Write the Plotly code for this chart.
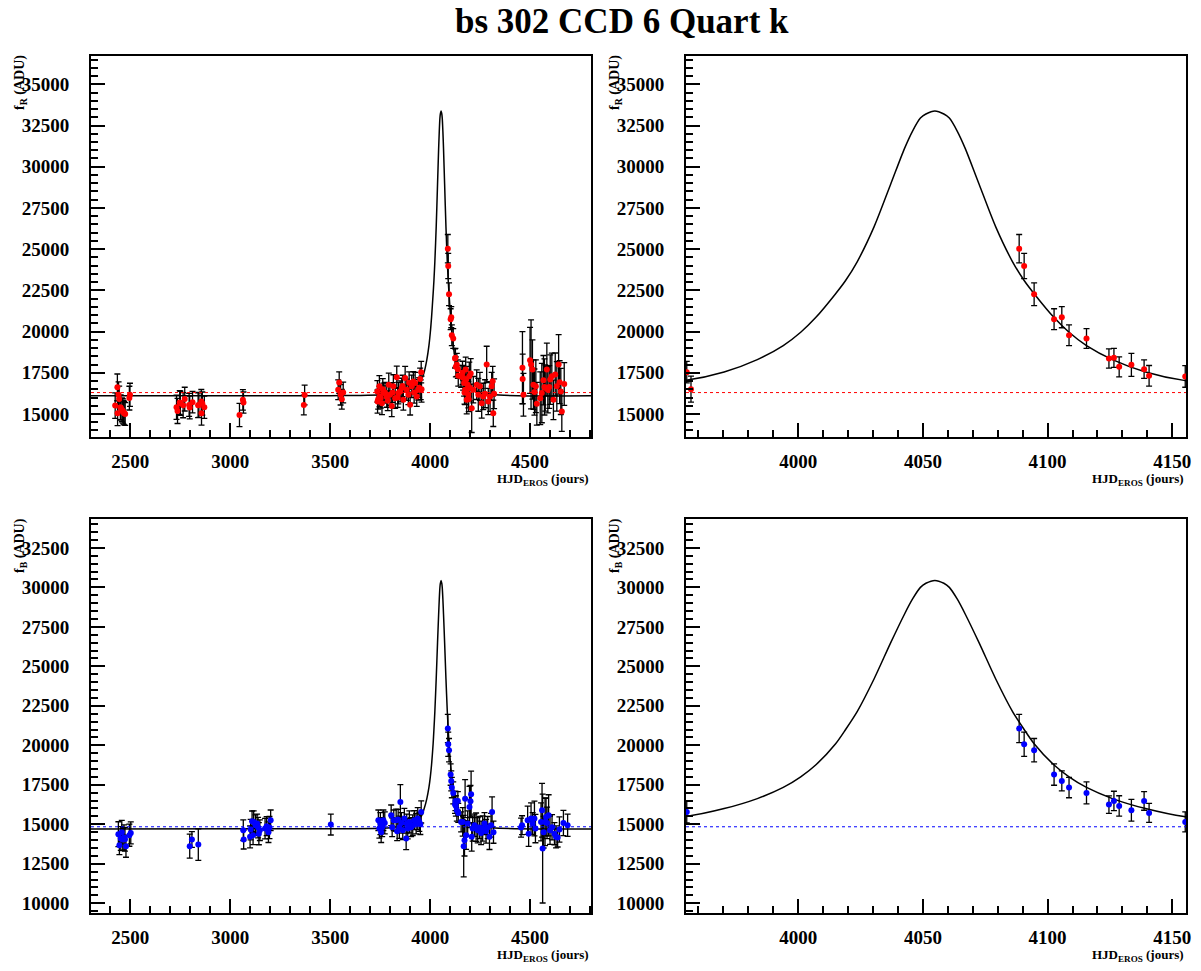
import plotly.graph_objects as go

# ---------------- data ----------------
# fit model (black curve), shared time grid
t_model = [2303, 3500, 3800, 3880, 3920,
           3954.8, 3970.3, 3983.6, 3994.0, 4001.0, 4007.0, 4015.0, 4019.0, 4023.7, 4030.4,
           4037.1, 4042.6, 4045.8, 4049.0, 4051.2,
           4054.8,
           4058.4, 4060.6, 4063.8, 4067.0, 4072.5, 4079.2, 4085.9, 4090.6, 4094.6, 4102.6,
           4108.6, 4115.6, 4126.0, 4139.3, 4154.7,
           4190, 4230, 4310, 4805]
fR_model = [16100, 16110, 16200, 16400, 16650,
            17040, 17550, 18300, 19150, 19960, 20850, 22300, 23100, 24250, 26350,
            28950, 31100, 32150, 32950, 33200,
            33388,
            33200, 32950, 32150, 31100, 28950, 26350, 24250, 23100, 22300, 20850,
            19960, 19150, 18300, 17550, 17040,
            16650, 16400, 16180, 16100]
fB_model = [14700, 14710, 14780, 14950, 15150,
            15490, 15991, 16625, 17330, 18000, 18750, 20100, 21000, 22150, 24200,
            26500, 28300, 29250, 30000, 30260,
            30444,
            30260, 30000, 29250, 28300, 26500, 24200, 22150, 21000, 20100, 18750,
            18000, 17330, 16625, 15991, 15490,
            15150, 14950, 14780, 14700]

# mean flux levels (dotted lines)
mean_R = 16300
mean_B = 14840

# R band measurements
t_R = [2424, 2435, 2436, 2441, 2444, 2450, 2452, 2458, 2462, 2466, 2469, 2474, 2495, 2498,
       2731, 2736, 2747, 2750, 2764, 2772, 2794, 2797, 2811, 2839, 2843, 2855, 2856, 2860, 2870,
       3046, 3063, 3066,
       3368, 3372,
       3540, 3545, 3552, 3558, 3565,
       3736, 3737, 3740, 3746, 3747, 3753, 3759, 3763, 3766, 3774, 3783, 3788, 3793, 3799,
       3808, 3812, 3816, 3825, 3833, 3838, 3841, 3850, 3858, 3862, 3866, 3875, 3883, 3891,
       3895, 3900, 3908, 3916, 3920, 3925, 3933, 3941, 3945, 3950, 3953, 3955.3, 3957,
       4088.6, 4090.6, 4094.6, 4102.6, 4105.7, 4108.6, 4115.6, 4124.6, 4126.6, 4128.7,
       4133.6, 4138.7, 4140.7, 4155.2,
       4162, 4165, 4170, 4172, 4175, 4178, 4180, 4183, 4186, 4188, 4191, 4193, 4196, 4199,
       4203, 4208, 4216, 4233, 4241, 4249, 4258, 4266, 4275, 4283, 4291, 4300, 4308, 4313,
       4316, 4320,
       4462, 4463, 4467, 4500, 4505, 4512, 4517, 4522, 4529, 4534, 4551, 4559, 4567, 4572,
       4576, 4584, 4589, 4596, 4601, 4609, 4617, 4626, 4634, 4643, 4648, 4654, 4659, 4671]
f_R = [15510, 16616, 15043, 16167, 15903, 15400, 15387, 15250, 15184, 15100, 15043, 15000, 15964, 16167,
       15411, 15184, 15694, 15650, 15532, 15903, 15553, 15390, 15717, 15532, 15553, 15757, 15043, 15635, 15411,
       14939, 15860, 15694,
       15550, 16150,
       16474, 16904, 16167, 15900, 16300,
       16370, 15756, 15900, 16677, 16060, 15964, 15657, 16500, 16272, 16300, 16060, 15800, 16781, 16170,
       15491, 16300, 16680, 15960, 17230, 16000, 16270, 16370, 16570, 16700, 15860, 17190, 16470, 16170,
       16900, 15560, 16680, 16970, 16300, 16880, 16060, 16470, 16600, 17130, 16470, 17540, 16509,
       25030, 23980, 22264, 20749, 20871, 19780, 19578, 18367, 18407, 17862,
       17983, 17721, 17317, 17280,
       17500, 17200, 16884, 16300, 16474, 17700, 17089, 15860, 16500, 16781, 16167, 15900, 17293, 16600,
       17457, 15348, 16474, 16781, 16167, 16679, 15655, 16065, 16229, 18010, 15757, 16065, 16679, 16986,
       15041, 16229,
       17805, 17130, 16167, 18256, 18010, 17700, 16780, 16330, 16680, 15620, 15960, 16270, 17050, 16640,
       16580, 17700, 16470, 16640, 17090, 17290, 15860, 17400, 16680, 18010, 16930, 16370, 15150, 16820]
e_R = [770, 810, 750, 780, 790, 740, 760, 720, 740, 720, 700, 690, 720, 700,
       740, 760, 720, 730, 760, 720, 700, 690, 650, 750, 760, 730, 720, 700, 680,
       700, 620, 640,
       600, 600,
       600, 650, 620, 600, 630,
       650, 700, 600, 650, 620, 600, 700, 650, 600, 620, 650, 600, 700, 640,
       650, 600, 700, 620, 680, 600, 650, 640, 600, 650, 620, 700, 640, 600,
       650, 620, 680, 600, 640, 650, 600, 620, 600, 650, 600, 650, 790,
       858, 767, 686, 636, 640, 626, 596, 585, 575, 606,
       697, 565, 626, 656,
       700, 750, 800, 700, 900, 750, 800, 850, 700, 900, 800, 750, 850, 800,
       900, 1470, 800, 900, 1000, 850, 900, 800, 850, 1100, 800, 900, 850, 900,
       800, 900,
       2190, 1500, 1300, 2000, 2700, 1800, 1500, 1400, 1600, 1300, 1600, 1800, 1500, 1700,
       1400, 1600, 1400, 1300, 1500, 1400, 1200, 1300, 1500, 1800, 1300, 1400, 1200, 1300]

# B band measurements
t_B = [2440, 2445, 2452, 2457, 2462, 2468, 2473, 2478, 2495, 2502,
       2797, 2808, 2840,
       3065, 3067, 3099, 3102, 3109, 3114, 3117, 3126, 3134, 3139, 3143, 3148, 3174, 3182,
       3191, 3196, 3202,
       3503,
       3741, 3746, 3751, 3755, 3760, 3766, 3773, 3805, 3810, 3818, 3830, 3835, 3840, 3846,
       3851, 3856, 3863, 3871, 3880, 3883, 3888, 3896, 3905, 3913, 3921, 3930, 3938, 3946,
       3951, 3955.3,
       4088.6, 4090.6, 4094.6, 4102.6, 4105.7, 4108.6, 4115.6, 4124.6, 4126.6, 4128.7,
       4133.6, 4138.7, 4140.7, 4155.2,
       4163, 4168, 4172, 4175, 4180, 4188, 4197, 4202, 4205, 4208, 4213, 4222, 4230, 4238,
       4247, 4255, 4263, 4272, 4280, 4288, 4297, 4305, 4310, 4317,
       4455, 4460, 4488, 4493, 4505, 4513, 4522, 4527, 4555, 4560, 4563, 4568, 4575, 4580,
       4585, 4593, 4600, 4610, 4622, 4630, 4638, 4647, 4667, 4688]
f_B = [14369, 13674, 14095, 14495, 14032, 14158, 14052, 13611, 14306, 14453,
       13611, 14032, 13716,
       14621, 14032, 14200, 14663, 15189, 14306, 15147, 14937, 15042, 14790, 14400, 14621, 14727, 14874,
       14495, 14790, 15253,
       14979,
       15253, 14727, 15042, 14495, 14811, 15253, 15084, 15568, 14811, 15253, 15253, 14558, 15295, 14811,
       16410, 15084, 14621, 15358, 14095, 15042, 14727, 15147, 14811, 14937, 15253, 15042, 15358, 15147,
       15000, 15779,
       21062, 20069, 19689, 18146, 17745, 17322, 16984, 16244, 16477, 16160,
       15885, 16477, 15716, 15146,
       15147, 13611, 13990, 16620, 14306, 15042, 16094, 16452, 16894, 14200, 14727, 14937, 14811, 14621,
       14790, 14453, 14727, 15042, 14558, 14790, 14200, 14937, 15779, 14495,
       14790, 14937, 15253, 14400, 15358, 15042, 15358, 14727, 15147, 15884, 13463, 14495, 15147, 15463,
       15084, 15568, 14621, 14811, 14400, 14200, 14158, 14663, 15084, 14937]
e_B = [790, 600, 750, 750, 700, 800, 750, 700, 700, 700,
       760, 500, 1000,
       650, 600, 700, 650, 650, 600, 700, 650, 600, 650, 700, 650, 650, 600,
       650, 700, 650,
       660,
       650, 600, 700, 650, 600, 650, 700, 650, 600, 650, 700, 600, 650, 700,
       1100, 650, 600, 650, 700, 600, 650, 700, 600, 650, 600, 650, 700, 600,
       650, 700,
       898, 771, 740, 676, 634, 644, 697, 550, 613, 644,
       687, 592, 602, 634,
       900, 1950, 1000, 1200, 900, 800, 1300, 1000, 1470, 900, 800, 700, 900, 800,
       700, 750, 800, 700, 750, 700, 800, 750, 950, 700,
       600, 600, 900, 800, 1000, 700, 1100, 900, 1200, 1700, 3450, 1000, 1500, 1200,
       1000, 1300, 900, 800, 700, 700, 600, 800, 800, 700]

# ---------------- figure ----------------
W, H = 1201, 971
fig = go.Figure()

panels = [
    # (xaxis, yaxis, t, f, e, model, mean, colour)
    ("x", "y", t_R, f_R, e_R, fR_model, mean_R, "red"),
    ("x2", "y2", t_R, f_R, e_R, fR_model, mean_R, "red"),
    ("x3", "y3", t_B, f_B, e_B, fB_model, mean_B, "blue"),
    ("x4", "y4", t_B, f_B, e_B, fB_model, mean_B, "blue"),
]

for xa, ya, t, f, e, model, mean, col in panels:
    fig.add_trace(go.Scatter(x=t_model, y=model, mode="lines", xaxis=xa, yaxis=ya,
                             line=dict(color="black", width=1.5, shape="spline", smoothing=0.8),
                             hoverinfo="skip"))
    fig.add_trace(go.Scatter(x=t, y=f, mode="markers", xaxis=xa, yaxis=ya,
                             marker=dict(color=col, size=6),
                             error_y=dict(type="data", array=e, color="black",
                                          thickness=1.3, width=3)))
    fig.add_shape(type="line", xref=xa + " domain", yref=ya, x0=0, x1=1, y0=mean, y1=mean,
                  line=dict(color=col, width=1, dash="dot"))

# plot frames in pixels (left, top, right, bottom)
frames = {
    "1": (91, 56, 591, 437),
    "2": (686, 56, 1186, 437),
    "3": (91, 519, 591, 913),
    "4": (686, 519, 1186, 913),
}
xranges = {"1": [2303, 4805], "2": [3955, 4155.5], "3": [2303, 4805], "4": [3955, 4155.5]}
yranges = {"1": [13605, 36717], "2": [13605, 36717], "3": [9379, 34331], "4": [9379, 34331]}
xdt = {"1": (500, 100), "2": (50, 10), "3": (500, 100), "4": (50, 10)}

tickfont = dict(family="Liberation Serif", size=19, color="black", weight="bold")
for k, (l, tp, r, b) in frames.items():
    sfx = "" if k == "1" else k
    major, minor = xdt[k]
    fig.update_layout(**{
        "xaxis" + sfx: dict(domain=[l / W, r / W], anchor="y" + sfx, range=xranges[k],
                            automargin=False,
                            showline=True, linecolor="black", linewidth=2, mirror=True,
                            ticks="inside", ticklen=14, tickwidth=1.5, tickcolor="black",
                            dtick=major, tick0=0, tickformat="d", showgrid=False, zeroline=False,
                            tickfont=tickfont, ticklabelstandoff=6,
                            minor=dict(ticks="inside", ticklen=7, dtick=minor,
                                       tickcolor="black", tickwidth=1.5, showgrid=False)),
        "yaxis" + sfx: dict(domain=[1 - b / H, 1 - tp / H], anchor="x" + sfx, range=yranges[k],
                            automargin=False,
                            showline=True, linecolor="black", linewidth=2, mirror=True,
                            ticks="inside", ticklen=14, tickwidth=1.5, tickcolor="black",
                            dtick=2500, tick0=0, tickformat="d", showgrid=False, zeroline=False,
                            tickfont=tickfont, ticklabelstandoff=16,
                            minor=dict(ticks="inside", ticklen=7, dtick=500,
                                       tickcolor="black", tickwidth=1.5, showgrid=False)),
    })

# axis titles
annots = []
for k, (l, tp, r, b) in frames.items():
    ylab = "f<sub>R</sub> (ADU)" if k in ("1", "2") else "f<sub>B</sub> (ADU)"
    annots.append(dict(text="<b>" + ylab + "</b>", xref="paper", yref="paper",
                       x=(l - 71) / W, y=1 - (tp + 27) / H, textangle=-90,
                       showarrow=False, xanchor="center", yanchor="middle",
                       font=dict(family="Liberation Serif", size=14, color="black")))
    annots.append(dict(text="<b>HJD<sub>EROS</sub> (jours)</b>", xref="paper", yref="paper",
                       x=r / W, y=1 - (b + 42) / H, showarrow=False,
                       xanchor="right", yanchor="middle",
                       font=dict(family="Liberation Serif", size=13, color="black")))

annots.append(dict(text="<b>bs 302 CCD 6 Quart k</b>", xref="paper", yref="paper",
                   x=622 / W, y=1 - 21 / H, showarrow=False, xanchor="center", yanchor="middle",
                   font=dict(family="Liberation Serif", size=35, color="black")))

fig.update_layout(width=W, height=H, margin=dict(l=0, r=0, t=0, b=0),
                  plot_bgcolor="white", paper_bgcolor="white", showlegend=False,
                  annotations=annots)

# drop the browser's default 8px page margin so the figure sits at (0, 0)
fig.write_html("out.html", config={"displayModeBar": False},
               post_script="document.body.style.margin='0px';")
